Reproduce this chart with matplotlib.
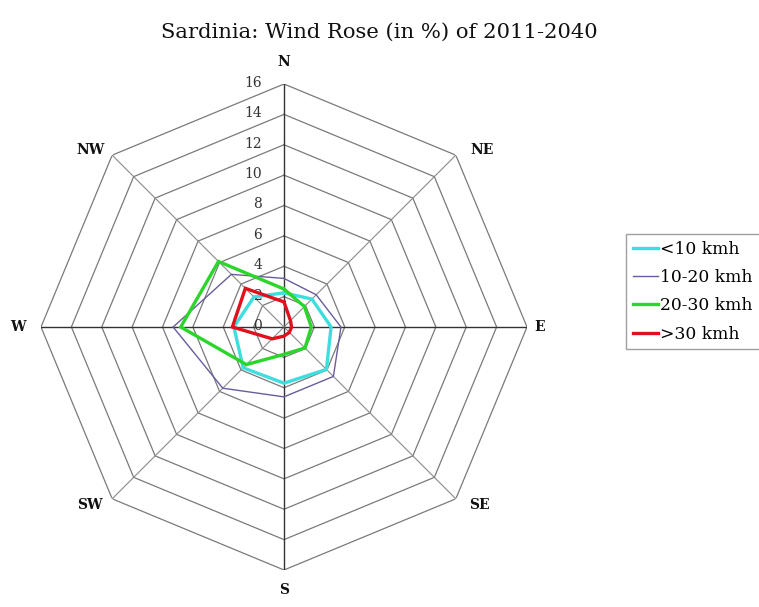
import numpy as np
import matplotlib
matplotlib.use("Agg")
import matplotlib.pyplot as plt

# Wind directions (clockwise from north) and frequency (%) per speed class
directions = ["N", "NE", "E", "SE", "S", "SW", "W", "NW"]
speed_classes = ["<10 kmh", "10-20 kmh", "20-30 kmh", ">30 kmh"]
below_10 = [2.25, 2.6, 3.1, 3.95, 3.7, 3.8, 3.3, 2.8]
from_10_to_20 = [3.2, 3.0, 3.75, 4.6, 4.6, 5.7, 7.3, 4.9]
from_20_to_30 = [2.5, 1.9, 1.8, 1.95, 1.8, 3.5, 6.8, 6.1]
above_30 = [1.65, 0.6, 0.5, 0.5, 0.6, 1.1, 3.4, 3.6]
ring_values = [0, 2, 4, 6, 8, 10, 12, 14, 16]

series = [below_10, from_10_to_20, from_20_to_30, above_30]
colors = ["#3fdede", "#6a5c9c", "#2bd62b", "#e0101c"]
widths = [2.4, 1.0, 2.4, 2.4]

serif = ["DejaVu Serif"]

W, H, DPI = 759, 607, 100
fig = plt.figure(figsize=(W / DPI, H / DPI), dpi=DPI, facecolor="white")

cx, cy, rad = 284, 327, 243
ax = fig.add_axes([(cx - rad) / W, (H - cy - rad) / H, 2 * rad / W, 2 * rad / H],
                  projection="polar")
ax.set_theta_zero_location("N")
ax.set_theta_direction(-1)
ax.set_ylim(0, ring_values[-1])
ax.grid(False)
ax.set_xticks([])
ax.set_yticks([])
ax.spines["polar"].set_visible(False)
ax.set_facecolor("white")

angles = np.deg2rad(np.arange(len(directions)) * 360.0 / len(directions))
closed = np.append(angles, angles[0])

# octagonal rings
for r in ring_values[1:]:
    ax.plot(closed, [r] * len(closed), color="#7a7a7a", lw=0.9, zorder=1)

# spokes
for i, a in enumerate(angles):
    cardinal = i % 2 == 0
    ax.plot([a, a], [0, ring_values[-1]],
            color="#333333" if cardinal else "#8a8a8a",
            lw=1.0 if cardinal else 0.8, zorder=1)

# radial value labels along the north spoke
for r in ring_values:
    ax.annotate(str(r), xy=(0, r), xytext=(-22, 1), textcoords="offset pixels",
                ha="right", va="center", fontsize=10, color="#333333",
                family=serif, zorder=2)

# direction labels
label_offsets = {
    "N": (0, 22), "NE": (26, 5), "E": (13, 0), "SE": (24, -6),
    "S": (0, -20), "SW": (-22, -6), "W": (-23, 0), "NW": (-22, 5),
}
for name, a in zip(directions, angles):
    ax.annotate(name, xy=(a, ring_values[-1]), xytext=label_offsets[name],
                textcoords="offset pixels", ha="center", va="center",
                fontsize=10, fontweight="bold", family=serif, color="#111111")

# wind frequency polygons
for vals, col, lw, lab in zip(series, colors, widths, speed_classes):
    ax.plot(closed, np.append(vals, vals[0]), color=col, lw=lw, label=lab,
            solid_joinstyle="miter", zorder=3)

fig.text(0.5, 1 - 32 / H, "Sardinia: Wind Rose (in %) of 2011-2040",
         ha="center", va="center", fontsize=15.2, family=serif, color="#111111")

leg = ax.legend(loc="upper left", bbox_to_anchor=(626 / W, 1 - 234 / H),
                bbox_transform=fig.transFigure, frameon=True, fancybox=False,
                edgecolor="#888888", prop={"family": serif, "size": 12.3},
                handlelength=1.45, handletextpad=0.15, labelspacing=0.66,
                borderpad=0.4, borderaxespad=0)
leg.get_frame().set_linewidth(1.0)

fig.savefig("out.png", dpi=DPI, facecolor="white")
